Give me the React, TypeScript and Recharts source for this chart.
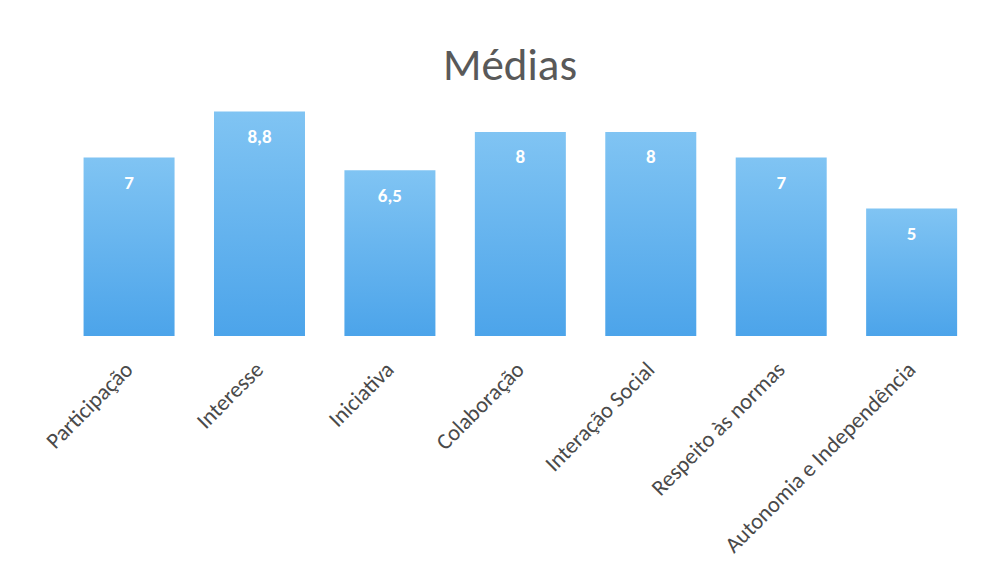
import { FC } from "react";
import { Bar, BarChart, LabelList, XAxis, YAxis } from "recharts";

const categories = [
  "Participação",
  "Interesse",
  "Iniciativa",
  "Colaboração",
  "Interação Social",
  "Respeito às normas",
  "Autonomia e Independência",
];
const medias = [7, 8.8, 6.5, 8, 8, 7, 5];

const data = categories.map((name, i) => ({ name, media: medias[i] }));

const font = "Carlito, 'Open Sans', 'Noto Sans', sans-serif";

const AngledTick: FC<any> = ({ x, y, payload }) => (
  <text
    x={x + 5}
    y={y + 27}
    transform={`rotate(-45, ${x + 5}, ${y + 27})`}
    textAnchor="end"
    fontSize={22.5}
    fontFamily={font}
    fill="#4a4a4a"
  >
    {payload.value}
  </text>
);

const App: FC = () => {
  return (
    <div style={{ position: "absolute", left: 0, top: 0, background: "#fff" }}>
      <BarChart
        width={992}
        height={565}
        data={data}
        margin={{ top: 81, right: 15, left: 64, bottom: 29 }}
        barCategoryGap="15%"
      >
        <defs>
          <linearGradient id="barFill" x1="0" y1="0" x2="0" y2="1">
            <stop offset="0%" stopColor="#80c4f3" />
            <stop offset="100%" stopColor="#4ca4ea" />
          </linearGradient>
        </defs>
        <text
          x={510}
          y={80}
          textAnchor="middle"
          fontSize={45}
          fontFamily={font}
          fill="#595959"
        >
          Médias
        </text>
        <XAxis
          dataKey="name"
          height={200}
          axisLine={false}
          tickLine={false}
          interval={0}
          tick={<AngledTick />}
        />
        <YAxis hide domain={[0, 10]} />
        <Bar dataKey="media" fill="url(#barFill)" isAnimationActive={false}>
          <LabelList
            dataKey="media"
            position="insideTop"
            offset={18}
            fill="#ffffff"
            fontSize={19}
            fontWeight="bold"
            fontFamily={font}
            formatter={(v: any) => String(v).replace(".", ",")}
          />
        </Bar>
      </BarChart>
    </div>
  );
};

export default App;
